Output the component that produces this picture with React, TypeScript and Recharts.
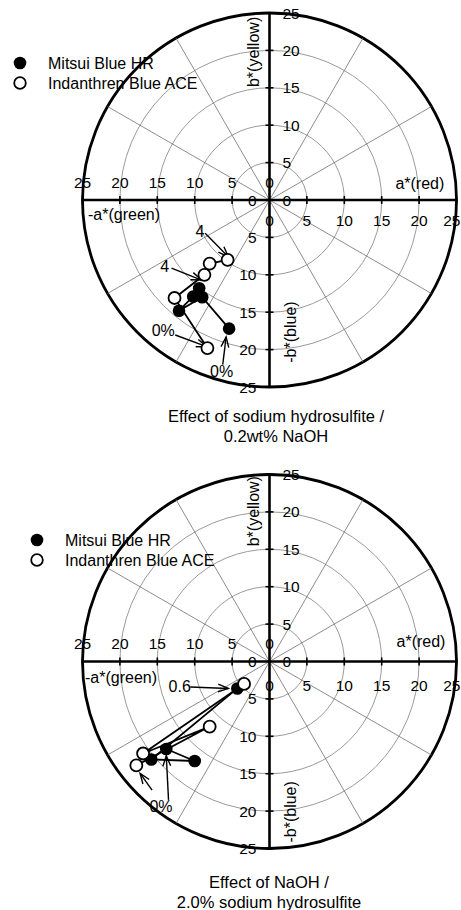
import {
  ReferenceArea,
  ReferenceDot,
  ReferenceLine,
  Scatter,
  ScatterChart,
  XAxis,
  YAxis,
} from "recharts";

const FONT = "'Liberation Sans', Arial, Helvetica, sans-serif";

// a*, b* coordinates
const TOP_MITSUI = [
  { a: -5.4, b: -17.2 }, // 0%
  { a: -9.0, b: -13.0 },
  { a: -12.1, b: -14.8 },
  { a: -10.2, b: -12.9 },
  { a: -9.4, b: -11.8 }, // 4%
];
const TOP_INDANTHREN = [
  { a: -8.3, b: -19.8 }, // 0%
  { a: -12.7, b: -13.1 },
  { a: -8.7, b: -10.0 },
  { a: -8.0, b: -8.5 },
  { a: -5.6, b: -8.0 }, // 4%
];
const BOTTOM_MITSUI = [
  { a: -13.8, b: -11.7 }, // 0%
  { a: -10.0, b: -13.3 },
  { a: -15.8, b: -13.1 },
  { a: -4.3, b: -3.6 }, // 0.6%
];
const BOTTOM_INDANTHREN = [
  { a: -17.8, b: -13.9 }, // 0%
  { a: -8.0, b: -8.7 },
  { a: -16.9, b: -12.3 },
  { a: -3.4, b: -3.0 }, // 0.6%
];

// annotation arrows: label position, arrow start and tip (a*, b*)
const TOP_ARROWS = [
  { text: "4", ta: -9.3, tb: -4.2, a1: -8.6, b1: -4.45, a2: -5.5, b2: -7.6 },
  { text: "4", ta: -14.0, tb: -8.9, a1: -13.1, b1: -9.1, a2: -9.1, b2: -10.7 },
  { text: "0%", ta: -14.2, tb: -17.4, a1: -12.6, b1: -18.05, a2: -8.4, b2: -19.6 },
  { text: "0%", ta: -6.4, tb: -22.95, a1: -6.25, b1: -22.0, a2: -5.8, b2: -18.3 },
];
const BOTTOM_ARROWS = [
  { text: "0.6", ta: -12.0, tb: -3.4, a1: -10.6, b1: -3.4, a2: -5.5, b2: -3.6 },
  { text: "0%", ta: -14.5, tb: -19.4, a1: -15.7, b1: -17.2, a2: -17.3, b2: -14.95 },
  { text: "", ta: -14.5, tb: -19.4, a1: -13.5, b1: -18.5, a2: -13.8, b2: -12.6 },
];

const RINGS = [5, 10, 15, 20];
const SPOKE_ANGLES = [30, 60, 120, 150, 210, 240, 300, 330];
const TICK_VALUES = [0, 5, 10, 15, 20, 25];
const MAX = 25;

type Pt = { a: number; b: number };
type Arrow = (typeof TOP_ARROWS)[number];
type Title = { text: string; a: number; b: number; rotate?: boolean };

const TOP_TITLES: Title[] = [
  { text: "b*(yellow)", a: -2.2, b: 19.8, rotate: true },
  { text: "-b*(blue)", a: 2.75, b: -17.65, rotate: true },
  { text: "a*(red)", a: 20.1, b: 2.15 },
  { text: "-a*(green)", a: -19.45, b: -2.0 },
];
const BOTTOM_TITLES: Title[] = [
  { text: "b*(yellow)", a: -2.2, b: 20.1, rotate: true },
  { text: "-b*(blue)", a: 2.75, b: -20.1, rotate: true },
  { text: "a*(red)", a: 20.25, b: 2.65 },
  { text: "-a*(green)", a: -19.85, b: -2.2 },
];

const ring = (stroke: string, width: number) => (p: any) => (
  <ellipse
    cx={p.x + p.width / 2}
    cy={p.y + p.height / 2}
    rx={Math.abs(p.width) / 2}
    ry={Math.abs(p.height) / 2}
    fill="none"
    stroke={stroke}
    strokeWidth={width}
  />
);

const arrowShape = (p: any) => {
  const { x1, y1, x2, y2 } = p;
  const ang = Math.atan2(y2 - y1, x2 - x1);
  const len = 11;
  const spread = 0.36;
  const h1x = x2 - len * Math.cos(ang - spread);
  const h1y = y2 - len * Math.sin(ang - spread);
  const h2x = x2 - len * Math.cos(ang + spread);
  const h2y = y2 - len * Math.sin(ang + spread);
  return (
    <g>
      <line x1={x1} y1={y1} x2={x2} y2={y2} stroke="#000" strokeWidth={1.4} />
      <polyline
        points={`${h1x},${h1y} ${x2},${y2} ${h2x},${h2y}`}
        fill="none"
        stroke="#000"
        strokeWidth={1.4}
      />
    </g>
  );
};

const filledDot = (p: any) => <circle cx={p.cx} cy={p.cy} r={6.3} fill="#000" />;
const openDot = (p: any) => (
  <circle cx={p.cx} cy={p.cy} r={6} fill="#fff" stroke="#000" strokeWidth={1.8} />
);

type Dir = "up" | "down" | "left" | "right";

function tickShape(dir: Dir, value: number, rightDy: number) {
  return (p: any) => {
    const { cx, cy } = p;
    const vertical = dir === "up" || dir === "down";
    let tx = cx;
    let ty = cy;
    let anchor: "start" | "middle" | "end" = "middle";
    if (dir === "up") {
      tx = cx + 13;
      anchor = "start";
    } else if (dir === "down") {
      tx = cx - 13;
      anchor = "end";
    } else if (dir === "left") {
      ty = cy - 18;
    } else {
      ty = cy + rightDy;
      // keep the outermost label inside the page edge
      if (value === MAX) {
        tx = cx + 4;
        anchor = "end";
      }
    }
    return (
      <g>
        {value !== 0 &&
          (vertical ? (
            <line x1={cx - 4} y1={cy} x2={cx + 4} y2={cy} stroke="#000" strokeWidth={1.6} />
          ) : (
            <line x1={cx} y1={cy - 4} x2={cx} y2={cy + 4} stroke="#000" strokeWidth={1.6} />
          ))}
        <text
          x={tx}
          y={ty}
          textAnchor={anchor}
          dominantBaseline="central"
          fontFamily={FONT}
          fontSize={15.5}
          fill="#000"
        >
          {value}
        </text>
      </g>
    );
  };
}

const textShape = (text: string, rotate?: boolean) => (p: any) => (
  <text
    x={p.cx}
    y={p.cy}
    textAnchor="middle"
    dominantBaseline="central"
    fontFamily={FONT}
    fontSize={16}
    fill="#000"
    transform={rotate ? `rotate(-90 ${p.cx} ${p.cy})` : undefined}
  >
    {text}
  </text>
);

function tickPoint(dir: Dir, v: number) {
  if (dir === "up") return { x: 0, y: v };
  if (dir === "down") return { x: 0, y: -v };
  if (dir === "left") return { x: -v, y: 0 };
  return { x: v, y: 0 };
}

function ColorPlot({
  height,
  margin,
  mitsui,
  indanthren,
  arrows,
  titles,
  rightDy,
}: {
  height: number;
  margin: { top: number; right: number; bottom: number; left: number };
  mitsui: Pt[];
  indanthren: Pt[];
  arrows: Arrow[];
  titles: Title[];
  rightDy: number;
}) {
  const dirs: Dir[] = ["up", "down", "left", "right"];
  return (
    <ScatterChart width={461} height={height} margin={margin}>
      <XAxis type="number" dataKey="a" domain={[-MAX, MAX]} hide />
      <YAxis type="number" dataKey="b" domain={[-MAX, MAX]} hide />

      {RINGS.map((r) => (
        <ReferenceArea
          key={`ring-${r}`}
          x1={-r}
          x2={r}
          y1={-r}
          y2={r}
          ifOverflow="visible"
          shape={ring("#808080", 0.8)}
        />
      ))}
      {SPOKE_ANGLES.map((deg) => {
        const t = (deg * Math.PI) / 180;
        return (
          <ReferenceLine
            key={`spoke-${deg}`}
            segment={[
              { x: 0, y: 0 },
              { x: MAX * Math.cos(t), y: MAX * Math.sin(t) },
            ]}
            ifOverflow="visible"
            stroke="#707070"
            strokeWidth={0.8}
          />
        );
      })}
      <ReferenceArea
        x1={-MAX}
        x2={MAX}
        y1={-MAX}
        y2={MAX}
        ifOverflow="visible"
        shape={ring("#000", 2.8)}
      />
      <ReferenceLine x={0} stroke="#000" strokeWidth={2.6} ifOverflow="visible" />
      <ReferenceLine y={0} stroke="#000" strokeWidth={2.6} ifOverflow="visible" />

      {dirs.map((dir) =>
        TICK_VALUES.map((v) => {
          const pt = tickPoint(dir, v);
          return (
            <ReferenceDot
              key={`tick-${dir}-${v}`}
              x={pt.x}
              y={pt.y}
              ifOverflow="visible"
              shape={tickShape(dir, v, rightDy)}
            />
          );
        })
      )}

      {titles.map((t) => (
        <ReferenceDot
          key={`title-${t.text}`}
          x={t.a}
          y={t.b}
          ifOverflow="visible"
          shape={textShape(t.text, t.rotate)}
        />
      ))}

      <Scatter
        data={mitsui}
        line={{ stroke: "#000", strokeWidth: 1.8 }}
        shape={filledDot}
        isAnimationActive={false}
      />
      <Scatter
        data={indanthren}
        line={{ stroke: "#000", strokeWidth: 1.8 }}
        shape={openDot}
        isAnimationActive={false}
      />

      {arrows.map((ar, i) => (
        <ReferenceLine
          key={`arrow-${i}`}
          segment={[
            { x: ar.a1, y: ar.b1 },
            { x: ar.a2, y: ar.b2 },
          ]}
          ifOverflow="visible"
          shape={arrowShape}
        />
      ))}
      {arrows
        .filter((ar) => ar.text)
        .map((ar, i) => (
          <ReferenceDot
            key={`arrow-label-${i}`}
            x={ar.ta}
            y={ar.tb}
            ifOverflow="visible"
            shape={textShape(ar.text)}
          />
        ))}
    </ScatterChart>
  );
}

function Legend({ left, top }: { left: number; top: number }) {
  return (
    <svg
      width={230}
      height={46}
      style={{ position: "absolute", left, top, overflow: "visible" }}
    >
      <circle cx={8} cy={12} r={6.3} fill="#000" />
      <circle cx={8} cy={32} r={5.8} fill="#fff" stroke="#000" strokeWidth={1.8} />
      <text x={36} y={12} dominantBaseline="central" fontFamily={FONT} fontSize={16}>
        Mitsui Blue HR
      </text>
      <text x={36} y={32} dominantBaseline="central" fontFamily={FONT} fontSize={16}>
        Indanthren Blue ACE
      </text>
    </svg>
  );
}

function Caption({ center, top, lines }: { center: number; top: number; lines: string[] }) {
  return (
    <div
      style={{
        position: "absolute",
        left: center - 160,
        top,
        width: 320,
        textAlign: "center",
        fontFamily: FONT,
        fontSize: 16.5,
        lineHeight: "19.5px",
        color: "#000",
      }}
    >
      {lines.map((l) => (
        <div key={l}>{l}</div>
      ))}
    </div>
  );
}

export default function App() {
  return (
    <div
      style={{
        position: "absolute",
        left: 0,
        top: 0,
        width: 461,
        height: 910,
        background: "#fff",
        overflow: "hidden",
      }}
    >
      <div style={{ position: "absolute", left: 0, top: 0 }}>
        <ColorPlot
          height={460}
          margin={{ top: 13, right: 4.5, bottom: 73, left: 82.5 }}
          mitsui={TOP_MITSUI}
          indanthren={TOP_INDANTHREN}
          arrows={TOP_ARROWS}
          titles={TOP_TITLES}
          rightDy={20}
        />
      </div>
      <Legend left={12} top={51} />
      <Caption
        center={276}
        top={407}
        lines={["Effect of sodium hydrosulfite /", "0.2wt% NaOH"]}
      />

      <div style={{ position: "absolute", left: 0, top: 460 }}>
        <ColorPlot
          height={450}
          margin={{ top: 14.5, right: 4.5, bottom: 61.5, left: 82.5 }}
          mitsui={BOTTOM_MITSUI}
          indanthren={BOTTOM_INDANTHREN}
          arrows={BOTTOM_ARROWS}
          titles={BOTTOM_TITLES}
          rightDy={24}
        />
      </div>
      <Legend left={29} top={528} />
      <Caption
        center={269}
        top={873}
        lines={["Effect of NaOH /", "2.0% sodium hydrosulfite"]}
      />
    </div>
  );
}
